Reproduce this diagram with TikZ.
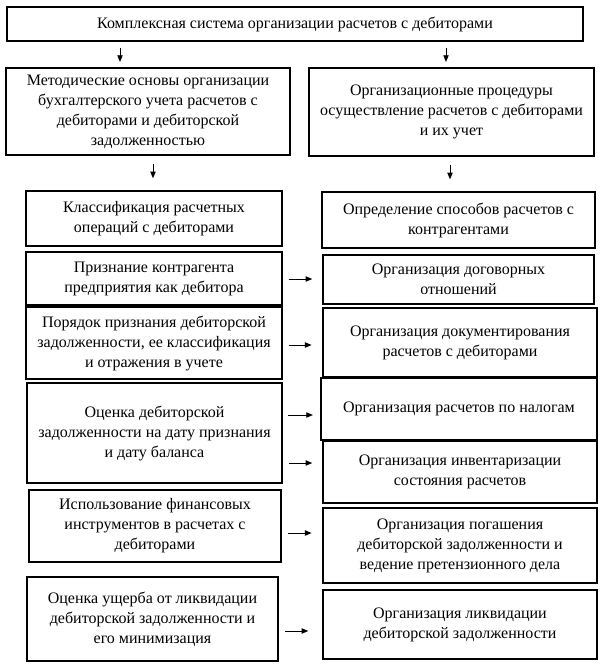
\documentclass[tikz,border=0pt]{standalone}
\usepackage{fontspec}
\setmainfont{Liberation Serif}
\usetikzlibrary{arrows.meta}
\begin{document}
\begin{tikzpicture}[x=0.75pt,y=-0.75pt,
  box/.style 2 args={draw, line width=1.1pt, align=center, inner sep=2pt,
    minimum width=#1*0.75pt, minimum height=#2*0.75pt,
    font=\fontsize{12}{15}\selectfont},
  arr/.style={line width=0.7pt, -{Triangle[length=5pt,width=4pt]}}]
\useasboundingbox (0,0) rectangle (600,668);
\node[box={576}{34}] (top) at (295,24) {Комплексная система организации расчетов с дебиторами};
\node[box={284}{87}] (m) at (148,111.5) {Методические основы организации\\бухгалтерского учета расчетов с\\дебиторами и дебиторской\\задолженностью};
\node[box={285}{88}] (o) at (451.5,112) {Организационные процедуры\\осуществление расчетов с дебиторами\\и их учет};
\node[box={256}{55}] (l1) at (154,218.5) {Классификация расчетных\\операций с дебиторами};
\node[box={256}{53}] (l2) at (154,278.5) {Признание контрагента\\предприятия как дебитора};
\node[box={256}{72}] (l3) at (154,343) {Порядок признания дебиторской\\задолженности, ее классификация\\и отражения в учете};
\node[box={255}{100}] (l4) at (154.5,433) {Оценка дебиторской\\задолженности на дату признания\\и дату баланса};
\node[box={252}{72}] (l5) at (155,526) {Использование финансовых\\инструментов в расчетах с\\дебиторами};
\node[box={251}{84}] (l6) at (152.5,619) {Оценка ущерба от ликвидации\\дебиторской задолженности и\\его минимизация};
\node[box={273}{56}] (r1) at (458.5,220) {Определение способов расчетов с\\контрагентами};
\node[box={271}{49}] (r2) at (458.5,279.5) {Организация договорных\\отношений};
\node[box={274}{69}] (r3) at (460,342.5) {Организация документирования\\расчетов с дебиторами};
\node[box={276}{62}] (r4) at (459,409) {Организация расчетов по налогам};
\node[box={274}{62}] (r5) at (460,472) {Организация инвентаризации\\состояния расчетов};
\node[box={274}{75}] (r6) at (460,545.5) {Организация погашения\\дебиторской задолженности и\\ведение претензионного дела};
\node[box={274}{69}] (r7) at (460,624.5) {Организация ликвидации\\дебиторской задолженности};
\coordinate (xa) at (120,0);
\coordinate (xb) at (446,0);
\coordinate (xc) at (153,0);
\coordinate (xd) at (450,0);
\draw[arr, shorten <=4.5pt, shorten >=4pt] (top.south -| xa) -- (m.north -| xa);
\draw[arr, shorten <=4.5pt, shorten >=4pt] (top.south -| xb) -- (o.north -| xb);
\draw[arr, shorten <=6pt, shorten >=9pt] (m.south -| xc) -- (l1.north -| xc);
\draw[arr, shorten <=6pt, shorten >=9pt] (o.south -| xd) -- (r1.north -| xd);
\draw[arr, shorten <=4.5pt, shorten >=7.5pt] (l2.east |- 0,279) -- (r2.west |- 0,279);
\draw[arr, shorten <=4.5pt, shorten >=8pt] (l3.east |- 0,345) -- (r3.west |- 0,345);
\draw[arr, shorten <=4pt, shorten >=5.5pt] (l4.east |- 0,415) -- (r4.west |- 0,415);
\draw[arr, shorten <=5pt, shorten >=7.5pt] (l4.east |- 0,463) -- (r5.west |- 0,463);
\draw[arr, shorten <=4.5pt, shorten >=8pt] (l5.east |- 0,533) -- (r6.west |- 0,533);
\draw[arr, shorten <=5pt, shorten >=10.5pt] (l6.east |- 0,631) -- (r7.west |- 0,631);
\end{tikzpicture}
\end{document}
